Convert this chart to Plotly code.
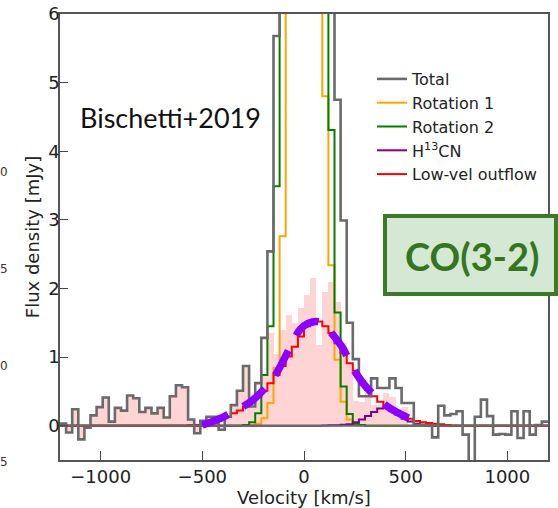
import plotly.graph_objects as go

# ---------------- data ----------------
BIN_WIDTH = 30
EDGES = [-1200 + BIN_WIDTH * k for k in range(81)]
CENTERS = [e + BIN_WIDTH / 2 for e in EDGES[:-1]]

total = [0.03, -0.10, 0.24, -0.20, -0.03, 0.15, 0.27, 0.41, 0.06, 0.26,
         0.22, 0.44, 0.40, 0.20, 0.26, 0.18, 0.26, 0.12, 0.43, 0.59,
         0.56, 0.09, -0.11, 0.07, 0.13, 0.13, -0.06, 0.13, 0.30, 0.51,
         0.87, 0.28, 0.62, 1.28, 2.54, 5.68, 7.8, 9.6, 10.5, 11.0,
         10.8, 10.2, 9.1, 7.6, 6.6, 4.75, 2.99, 1.50, 0.97, 0.43,
         0.43, 0.69, 0.55, 0.55, 0.69, 0.55, 0.33, 0.33, 0.01, 0.01,
         0.01, -0.17, 0.29, 0.15, 0.17, 0.21, -0.13, -1.0, 0.13, 0.38,
         0.14, -0.13, -0.12, -0.13, 0.21, -0.18, 0.21, -0.13, 0.01, 0.06]

residual = total[:31] + [0.45, 0.45, 0.76, 1.35, 1.05, 1.40, 1.62, 1.50,
         1.71, 1.90, 2.15, 1.18, 1.95, 2.10, 1.80, 1.20, 0.93, 0.36,
         0.34, 0.48, 0.30, 0.30, 0.48, 0.42, 0.24, 0.27] + [0.0] * 22

rotation1 = [0.0] * 31 + [0.005, 0.03, 0.11, 0.33, 0.84, 2.76,
         6.9, 8.4, 9.0, 8.8, 7.9, 6.6, 4.8, 2.34, 0.96, 0.35, 0.09, 0.02,
         0.005] + [0.0] * 30

rotation2 = [0.0] * 30 + [0.01, 0.05, 0.18, 0.74, 1.45, 3.49,
         6.4, 7.5, 8.2, 8.5, 8.3, 7.8, 7.0, 6.2, 4.31, 1.65, 0.57, 0.17,
         0.03, 0.01] + [0.0] * 30

h13cn = [0.0] * 43 + [0.003, 0.005, 0.008, 0.012, 0.02, 0.05, 0.09,
         0.14, 0.20, 0.25, 0.26, 0.22, 0.16, 0.10, 0.06, 0.03, 0.015,
         0.005] + [0.0] * 19

outflow = [0.0] * 21 + [0.005, 0.01, 0.02, 0.04, 0.06, 0.09, 0.13,
         0.18, 0.22, 0.28, 0.34, 0.42, 0.51, 0.62, 0.74, 0.87, 1.01,
         1.15, 1.30, 1.45, 1.52, 1.52, 1.45, 1.35, 1.20, 1.06, 0.91,
         0.80, 0.65, 0.52, 0.43, 0.35, 0.28, 0.22, 0.17, 0.13, 0.10,
         0.07, 0.05, 0.04, 0.03, 0.02, 0.01] + [0.0] * 16

fit_v = [-500, -450, -400, -356, -300, -262, -200, -143, -93, -50, -20,
         20, 60, 87, 140, 193, 234, 290, 349, 400, 431, 480, 530, 585]
fit_y = [0.01, 0.06, 0.12, 0.19, 0.28, 0.35, 0.52, 0.73, 1.00, 1.25, 1.40,
         1.49, 1.52, 1.50, 1.33, 1.12, 0.87, 0.62, 0.43, 0.30, 0.24, 0.16,
         0.09, 0.03]

XRANGE = [-1200, 1200]
YRANGE = [-0.5, 6]
XTICKS = [-1000, -500, 0, 500, 1000]
YTICKS = [0, 1, 2, 3, 4, 5, 6]
side_labels = ["0", "5", "0", "5"]
side_label_px = [172, 269, 366, 462]

# ---------------- figure ----------------
W, H = 558, 508
ML, MR, MT, MB = 60, 10, 14, 48
PW, PH = W - ML - MR, H - MT - MB


def px2paper_x(px):
    return (px - ML) / PW


def px2paper_y(py):
    return (H - MB - py) / PH


def step_y(vals):
    return list(vals) + [vals[-1]]


fig = go.Figure()

fig.add_trace(go.Bar(x=CENTERS, y=residual, width=BIN_WIDTH,
                     marker=dict(color="#FFD4D4", line=dict(width=0)),
                     showlegend=False, hoverinfo="skip"))

step_series = [
    ("Rotation 1", rotation1, "#FFA500", 2, 2),
    ("Rotation 2", rotation2, "#008000", 2, 3),
    ("H<sup>13</sup>CN", h13cn, "#800080", 2, 4),
    ("Low-vel outflow", outflow, "#FF0000", 2, 5),
    ("Total", total, "#6A6A6A", 2.6, 1),
]
for name, vals, col, lw, rank in step_series:
    fig.add_trace(go.Scatter(x=EDGES, y=step_y(vals), mode="lines",
                             line=dict(color=col, width=lw, shape="hv"),
                             name=name, legendrank=rank,
                             legendgroup=name, hoverinfo="skip"))

fig.add_trace(go.Scatter(x=XRANGE, y=[0, 0], mode="lines",
                         line=dict(color="#6A6A6A", width=2),
                         showlegend=False, hoverinfo="skip"))

fig.add_trace(go.Scatter(x=fit_v, y=fit_y, mode="lines",
                         line=dict(color="#8C00FF", width=7.5, dash="28px,17px",
                                   shape="spline", smoothing=1.0),
                         showlegend=False, hoverinfo="skip"))

axis_font = dict(family="DejaVu Sans", size=18, color="#222222")
fig.update_xaxes(range=XRANGE, tickvals=XTICKS, ticks="inside", ticklen=9,
                 tickwidth=1.2, tickcolor="#444444", showgrid=False,
                 zeroline=False, showline=True, linecolor="#555555",
                 linewidth=1.5, mirror=True, tickfont=axis_font,
                 automargin=False,
                 title=dict(text="Velocity [km/s]",
                            font=dict(family="DejaVu Sans", size=18,
                                      color="#222222"), standoff=4))
fig.update_yaxes(range=YRANGE, tickvals=YTICKS, ticks="inside", ticklen=8,
                 tickwidth=1.2, tickcolor="#444444", showgrid=False,
                 zeroline=False, showline=True, linecolor="#555555",
                 linewidth=1.5, mirror=True, tickfont=axis_font,
                 automargin=False, ticklabelstandoff=-5,
                 title=dict(text="Flux density [mJy]",
                            font=dict(family="DejaVu Sans", size=18,
                                      color="#222222"), standoff=4))

annotations = [
    dict(text="Bischetti+2019", x=px2paper_x(170), y=px2paper_y(117),
         xref="paper", yref="paper", xanchor="center", yanchor="middle",
         showarrow=False,
         font=dict(family="Lato", size=27, color="#111111")),
    dict(text="<b>CO(3-2)</b>", x=px2paper_x(472), y=px2paper_y(256),
         xref="paper", yref="paper", xanchor="center", yanchor="middle",
         showarrow=False,
         font=dict(family="Lato", size=38, color="#347620")),
]
for t, py in zip(side_labels, side_label_px):
    annotations.append(dict(text=t, x=px2paper_x(10), y=px2paper_y(py),
                            xref="paper", yref="paper", xanchor="right",
                            yanchor="middle", showarrow=False,
                            font=dict(family="DejaVu Sans", size=12,
                                      color="#333333")))

shapes = [dict(type="rect", xref="paper", yref="paper",
               x0=px2paper_x(385), x1=px2paper_x(556),
               y0=px2paper_y(294), y1=px2paper_y(216),
               line=dict(color="#3D7A26", width=4), fillcolor="#D5E8D4",
               layer="above")]

fig.update_layout(
    width=W, height=H, margin=dict(l=ML, r=MR, t=MT, b=MB),
    plot_bgcolor="white", paper_bgcolor="white", bargap=0,
    showlegend=True,
    legend=dict(x=px2paper_x(372), y=px2paper_y(62), xanchor="left",
                yanchor="top", bgcolor="rgba(0,0,0,0)", borderwidth=0,
                font=dict(family="DejaVu Sans", size=16, color="#222222"),
                tracegroupgap=0, itemwidth=30),
    annotations=annotations, shapes=shapes,
)

fig.write_html("out.html", config={"displayModeBar": False})
